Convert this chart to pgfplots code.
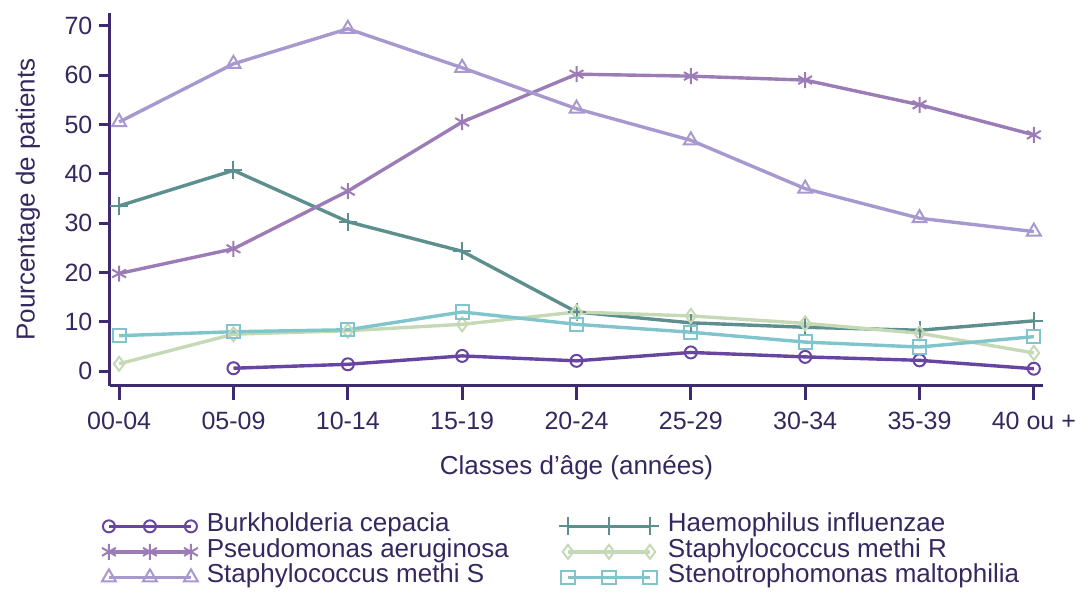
\documentclass[border=0pt]{standalone}
\usepackage{pgfplots}
\pgfplotsset{compat=1.18}
\usepackage{fontspec}
\setmainfont{Liberation Sans}
\definecolor{txt}{HTML}{35285F}
\definecolor{axc}{HTML}{3E2A6E}
\definecolor{cB}{HTML}{6845A0}
\definecolor{cP}{HTML}{9C7CB6}
\definecolor{cS}{HTML}{A898D0}
\definecolor{cH}{HTML}{5E8F8F}
\definecolor{cR}{HTML}{C6D9B6}
\definecolor{cT}{HTML}{80C4CC}
\begin{document}
\begin{tikzpicture}
\useasboundingbox (-55pt,-103pt) rectangle (485pt,193pt);
\begin{axis}[
  at={(0,0)}, anchor=south west,
  scale only axis, width=466.5pt, height=186.5pt,
  xmin=-0.08, xmax=8.08, ymin=-3.0, ymax=72.6,
  axis lines*=left,
  axis line style={axc, line width=1.5pt, -},
  tick align=outside,
  xtick={0,1,2,3,4,5,6,7,8},
  xticklabels={00-04,05-09,10-14,15-19,20-24,25-29,30-34,35-39,40 ou +},
  ytick={0,10,20,30,40,50,60,70},
  xtick style={axc, line width=1.5pt, /pgfplots/major tick length=7pt},
  ytick style={axc, line width=1.5pt, /pgfplots/major tick length=5.5pt},
  /pgf/number format/assume math mode=true,
  tick label style={font=\fontsize{12.5}{15}\selectfont, text=txt},
  xticklabel style={yshift=-5pt},
  yticklabel style={xshift=-1pt},
  every axis x label/.style={at={(axis description cs:0.5,-0.22)}, anchor=center},
  every axis y label/.style={at={(axis description cs:-0.088,0.5)}, rotate=90, anchor=center},
  label style={font=\fontsize{13}{15.6}\selectfont, text=txt},
  xlabel={Classes d'âge (années)},
  ylabel={Pourcentage de patients},
  legend columns=2,
  legend cell align=left,
  legend style={at={(axis description cs:-0.009,-0.341)}, anchor=north west, draw=none, fill=none,
    inner sep=0pt, row sep=0pt,
    font=\fontsize{13}{15.6}\selectfont, text=txt,
    nodes={inner sep=0pt, text height=9pt, text depth=3.75pt},
    /tikz/every odd column/.append style={column sep=4.5pt},
    /tikz/every even column/.append style={column sep=25pt}},
  legend image code/.code={\draw[#1, mark repeat=1] plot coordinates {(0pt,0pt) (20.5pt,0pt) (41pt,0pt)};},
  every axis plot/.append style={line width=1.7pt, mark options={solid, line width=1pt}},
]
\addplot[color=cB, mark=o, mark size=3pt] coordinates {(1,0.6) (2,1.4) (3,3.1) (4,2.1) (5,3.8) (6,2.9) (7,2.2) (8,0.5)};
\addlegendentry{Burkholderia cepacia}
\addplot[color=cH, mark=+, mark size=4.5pt] coordinates {(0,33.5) (1,40.7) (2,30.3) (3,24.3) (4,12.0) (5,9.8) (6,8.9) (7,8.3) (8,10.2)};
\addlegendentry{Haemophilus influenzae}
\addplot[color=cP, mark=asterisk, mark size=4pt] coordinates {(0,19.8) (1,24.8) (2,36.5) (3,50.5) (4,60.2) (5,59.8) (6,59.0) (7,54.0) (8,47.9)};
\addlegendentry{Pseudomonas aeruginosa}
\addplot[color=cR, mark=diamond, mark size=3.5pt] coordinates {(0,1.5) (1,7.5) (2,8.2) (3,9.5) (4,12.0) (5,11.2) (6,9.7) (7,7.7) (8,3.7)};
\addlegendentry{Staphylococcus methi R}
\addplot[color=cS, mark=triangle, mark size=4pt] coordinates {(0,50.5) (1,62.3) (2,69.4) (3,61.5) (4,53.2) (5,46.8) (6,37.0) (7,31.0) (8,28.3)};
\addlegendentry{Staphylococcus methi S}
\addplot[color=cT, mark=square, mark size=3.3pt] coordinates {(0,7.2) (1,8.0) (2,8.4) (3,12.0) (4,9.5) (5,7.9) (6,5.9) (7,4.9) (8,7.0)};
\addlegendentry{Stenotrophomonas maltophilia}
\end{axis}
\end{tikzpicture}
\end{document}
